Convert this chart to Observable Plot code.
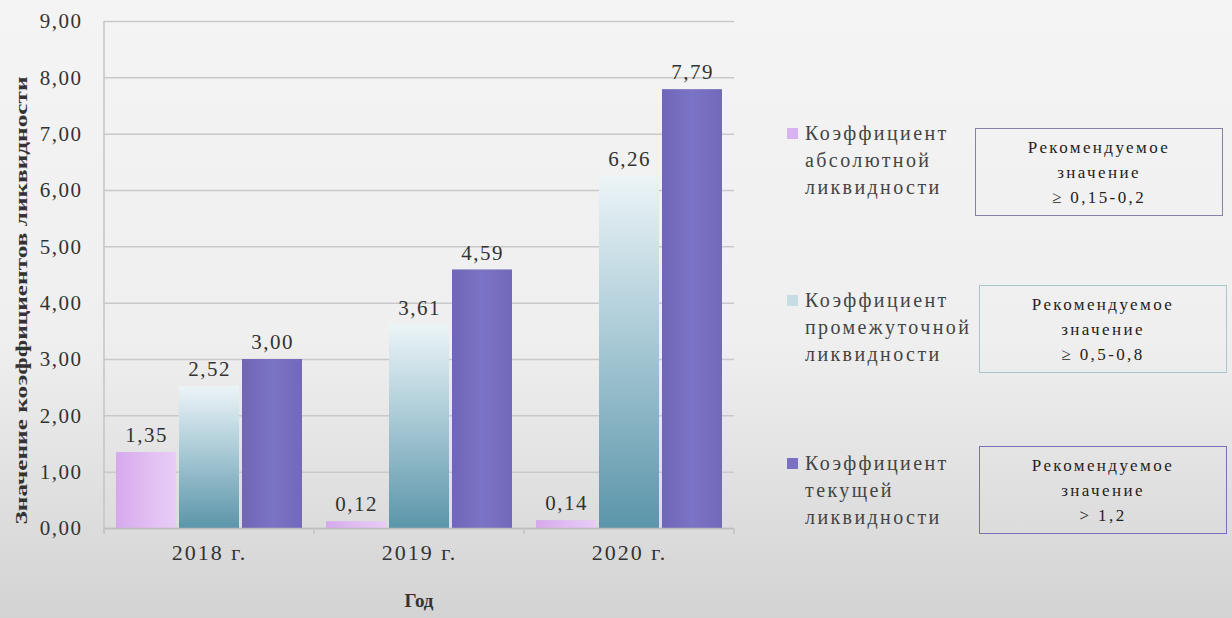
<!DOCTYPE html>
<html>
<head>
<meta charset="utf-8">
<script src="https://cdn.jsdelivr.net/npm/d3@7"></script>
<script src="https://cdn.jsdelivr.net/npm/@observablehq/plot@0.6"></script>
<style>
  html, body { margin: 0; padding: 0; }
  body {
    width: 1232px; height: 618px; overflow: hidden;
    background: linear-gradient(to bottom, #f4f4f4 0%, #efefef 55%, #d3d3d3 100%);
    font-family: "Liberation Serif", "Times New Roman", "DejaVu Serif", serif;
    color: #3a3a3a;
  }
  #wrap { position: relative; width: 1232px; height: 618px; }
  #chart { position: absolute; left: 0; top: 0; }
  .leg { position: absolute; left: 805px; font-size: 20px; line-height: 27px; letter-spacing: 2.4px; color: #444; white-space: nowrap; }
  .sw { position: absolute; left: 787px; width: 11px; height: 11px; }
  .box { position: absolute; width: 248px; height: 88px; box-sizing: border-box; border: 1.5px solid #888;
         text-align: center; font-size: 17px; line-height: 25px; letter-spacing: 2.4px; color: #222; padding-top: 6px; }
  svg text { font-family: "Liberation Serif", "Times New Roman", "DejaVu Serif", serif; }
</style>
</head>
<body>
<div id="wrap">
  <div id="chart"></div>
  <div id="legend"></div>
</div>
<script>
// ---- data ----
const years = ["2018 г.", "2019 г.", "2020 г."];
const seriesNames = [
  "Коэффициент абсолютной ликвидности",
  "Коэффициент промежуточной ликвидности",
  "Коэффициент текущей ликвидности"
];
const absoluteLiquidity = [1.35, 0.12, 0.14];
const intermediateLiquidity = [2.52, 3.61, 6.26];
const currentLiquidity = [3.00, 4.59, 7.79];
const yTicks = [0, 1, 2, 3, 4, 5, 6, 7, 8, 9];
const recommendedValues = ["≥ 0,15-0,2", "≥ 0,5-0,8", "> 1,2"];
const yTitle = "Значение коэффициентов ликвидности";
const xTitle = "Год";

const seriesValues = [absoluteLiquidity, intermediateLiquidity, currentLiquidity];
const rows = [];
seriesNames.forEach((s, i) => years.forEach((yr, j) => rows.push({series: s, year: yr, value: seriesValues[i][j]})));

const fmt = v => v.toFixed(2).replace(".", ",");
const gradIds = ["gAbs", "gInt", "gCur"];
const serifStack = "'Liberation Serif', 'Times New Roman', 'DejaVu Serif', serif";

const chart = Plot.plot({
  width: 760,
  height: 618,
  marginTop: 21,
  marginBottom: 90,
  marginLeft: 104,
  marginRight: 26,
  style: {background: "transparent", fontFamily: serifStack, fontSize: "21px", color: "#333", overflow: "visible"},
  fx: {domain: years, padding: 0, label: null, axis: "bottom", tickSize: 0, tickPadding: 16},
  x: {domain: seriesNames, paddingInner: 0.04, paddingOuter: 0.17, axis: null},
  y: {domain: [0, 9], ticks: yTicks, tickFormat: fmt, label: null, tickSize: 0, tickPadding: 22},
  marks: [
    Plot.ruleY(yTicks, {stroke: "#c9c9c9", strokeWidth: 1.5}),
    ...seriesNames.map((s, i) => Plot.barY(rows.filter(d => d.series === s), {
      fx: "year", x: "series", y: "value", fill: `url(#${gradIds[i]})`
    })),
    Plot.ruleY([0], {stroke: "#bdbdbd", strokeWidth: 1.5}),
    Plot.text(rows, {fx: "year", x: "series", y: "value", text: d => fmt(d.value), dy: -17, fill: "#333", fontSize: 21})
  ]
});

const svg = chart;
const ns = "http://www.w3.org/2000/svg";
// gradients
const defs = document.createElementNS(ns, "defs");
defs.innerHTML = `
  <linearGradient id="gAbs" x1="0" y1="0" x2="1" y2="0">
    <stop offset="0" stop-color="#d6a9ec"/><stop offset="0.6" stop-color="#e2c0f3"/><stop offset="1" stop-color="#e8ccf6"/>
  </linearGradient>
  <linearGradient id="gInt" x1="0" y1="0" x2="0" y2="1">
    <stop offset="0" stop-color="#ecf4f7"/><stop offset="0.45" stop-color="#abcbd7"/><stop offset="1" stop-color="#5b95a9"/>
  </linearGradient>
  <linearGradient id="gCur" x1="0" y1="0" x2="1" y2="0">
    <stop offset="0" stop-color="#6f66b8"/><stop offset="0.5" stop-color="#7b73c5"/><stop offset="1" stop-color="#7269bb"/>
  </linearGradient>`;
svg.insertBefore(defs, svg.firstChild);
svg.querySelectorAll("[aria-label='fx-axis tick label'] text").forEach(t => {
  t.setAttribute("font-size", "22"); t.style.letterSpacing = "2px";
});
svg.querySelectorAll("[aria-label='y-axis tick label'] text").forEach(t => { t.style.letterSpacing = "1.5px"; });
svg.querySelectorAll("[aria-label='text'] text").forEach(t => { t.style.letterSpacing = "1.5px"; });

const ys = chart.scale("y");
const fxs = chart.scale("fx");
const y0 = ys.apply(0), y9 = ys.apply(9);
const left = fxs.range[0], right = fxs.range[1];
function line(x1, y1, x2, y2, c) {
  const l = document.createElementNS(ns, "line");
  l.setAttribute("x1", x1); l.setAttribute("y1", y1); l.setAttribute("x2", x2); l.setAttribute("y2", y2);
  l.setAttribute("stroke", c); l.setAttribute("stroke-width", 1.5);
  svg.appendChild(l);
}
line(left, y9, left, y0 + 6, "#c4c4c4");
years.forEach(yr => { const x = fxs.apply(yr); line(x, y0, x, y0 + 6, "#c4c4c4"); });
line(right, y0, right, y0 + 6, "#c4c4c4");

// axis titles
const yt = document.createElementNS(ns, "text");
yt.textContent = yTitle;
yt.setAttribute("transform", `translate(27,${(y0 + y9) / 2 + 26}) rotate(-90)`);
yt.setAttribute("text-anchor", "middle");
yt.setAttribute("font-weight", "bold");
yt.setAttribute("font-size", "17");
yt.setAttribute("fill", "#333");
yt.setAttribute("textLength", "448");
yt.setAttribute("lengthAdjust", "spacingAndGlyphs");
svg.appendChild(yt);

const xt = document.createElementNS(ns, "text");
xt.textContent = xTitle;
xt.setAttribute("x", (left + right) / 2);
xt.setAttribute("y", 607);
xt.setAttribute("text-anchor", "middle");
xt.setAttribute("font-weight", "bold");
xt.setAttribute("font-size", "19");
xt.setAttribute("fill", "#333");
svg.appendChild(xt);

document.getElementById("chart").appendChild(svg);

// legend & recommendation boxes
const legendTops = [120, 287, 450];
const boxPos = [{l: 975, t: 128, border: "#8a80a6"}, {l: 979, t: 285, border: "#a9c7c9"}, {l: 979, t: 446, border: "#7a70b4"}];
const swatch = ["#d9b3ef", "#c6dde6", "#7a71c3"];
const lg = document.getElementById("legend");
seriesNames.forEach((s, i) => {
  const sw = document.createElement("div");
  sw.className = "sw";
  sw.style.top = (legendTops[i] + 8) + "px";
  sw.style.background = swatch[i];
  lg.appendChild(sw);
  const t = document.createElement("div");
  t.className = "leg";
  t.style.top = legendTops[i] + "px";
  t.innerHTML = s.split(" ").join("<br>");
  lg.appendChild(t);
  const b = document.createElement("div");
  b.className = "box";
  b.style.left = boxPos[i].l + "px";
  b.style.top = boxPos[i].t + "px";
  b.style.borderColor = boxPos[i].border;
  b.innerHTML = "Рекомендуемое<br>значение<br>" + recommendedValues[i];
  lg.appendChild(b);
});
</script>
</body>
</html>
